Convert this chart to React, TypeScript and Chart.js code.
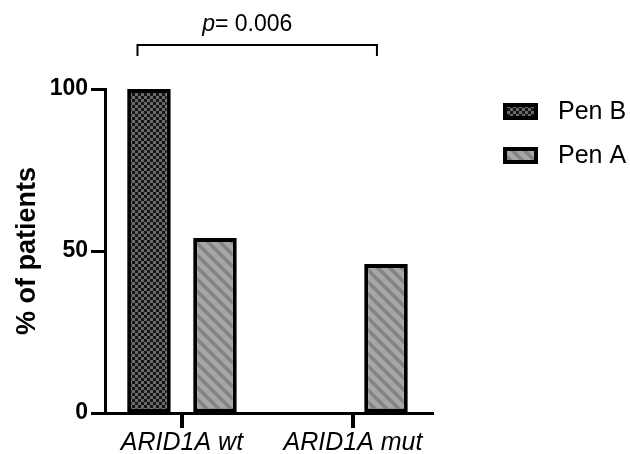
import React, { useEffect, useRef } from "react";
import { Chart, registerables } from "chart.js";

Chart.register(...registerables);

const categories = ["ARID1A wt", "ARID1A mut"];
const seriesNames = ["Pen B", "Pen A"];
const penB = [100, 0];
const penA = [54, 46];
const yTicks = [0, 50, 100];
const pValueLabel = "0.006";

const FONT = "'Liberation Sans', Arial, sans-serif";

function makeChecker(): CanvasPattern | string {
  const c = document.createElement("canvas");
  c.width = 6;
  c.height = 6;
  const g = c.getContext("2d");
  if (!g) return "#333";
  g.fillStyle = "#151515";
  g.fillRect(0, 0, 6, 6);
  g.fillStyle = "#6a6a6a";
  g.fillRect(0, 0, 3, 3);
  g.fillRect(3, 3, 3, 3);
  return g.createPattern(c, "repeat") || "#333";
}

function makeStripes(): CanvasPattern | string {
  const n = 12;
  const c = document.createElement("canvas");
  c.width = n;
  c.height = n;
  const g = c.getContext("2d");
  if (!g) return "#999";
  const img = g.createImageData(n, n);
  for (let y = 0; y < n; y++) {
    for (let x = 0; x < n; x++) {
      const d = (((x - y) % n) + n) % n;
      const v = d < 5 ? 0x84 : 0xa6;
      const i = (y * n + x) * 4;
      img.data[i] = v;
      img.data[i + 1] = v;
      img.data[i + 2] = v;
      img.data[i + 3] = 255;
    }
  }
  g.putImageData(img, 0, 0);
  return g.createPattern(c, "repeat") || "#999";
}

export default function App() {
  const ref = useRef<HTMLCanvasElement | null>(null);

  useEffect(() => {
    if (!ref.current) return;
    const checker = makeChecker();
    const stripes = makeStripes();
    const fills = [checker, stripes];

    const overlay = {
      id: "overlay",
      afterDraw(chart: any) {
        const ctx = chart.ctx;
        const xs = chart.scales.x;
        const ys = chart.scales.y;
        ctx.save();
        // x-axis tick marks at the category positions
        const axisY = ys.getPixelForValue(0);
        ctx.fillStyle = "#000";
        for (let i = 0; i < categories.length; i++) {
          const px = Math.round(xs.getPixelForValue(i));
          ctx.fillRect(px - 2, axisY - 1, 4, 16);
        }
        // significance bracket
        const x1 = xs.getPixelForValue(-0.26);
        const x2 = xs.getPixelForValue(1.14);
        ctx.strokeStyle = "#000";
        ctx.lineWidth = 2;
        ctx.beginPath();
        ctx.moveTo(x1, 56);
        ctx.lineTo(x1, 45);
        ctx.lineTo(x2, 45);
        ctx.lineTo(x2, 56);
        ctx.stroke();
        // p value text
        ctx.fillStyle = "#000";
        ctx.textBaseline = "alphabetic";
        const pPart = "p";
        const rest = "= " + pValueLabel;
        ctx.font = "italic 23px " + FONT;
        const w1 = ctx.measureText(pPart).width;
        ctx.font = "23px " + FONT;
        const w2 = ctx.measureText(rest).width;
        const cx = xs.getPixelForValue(0.382);
        const sx = cx - (w1 + w2) / 2;
        ctx.font = "italic 23px " + FONT;
        ctx.fillText(pPart, sx, 31);
        ctx.font = "23px " + FONT;
        ctx.fillText(rest, sx + w1, 31);
        // legend
        const bx = 503;
        const bw = 35;
        const bh = 17;
        seriesNames.forEach((name, i) => {
          const top = 103 + i * 44;
          ctx.fillStyle = fills[i] as any;
          ctx.fillRect(bx, top, bw, bh);
          ctx.strokeStyle = "#000";
          ctx.lineWidth = 4;
          ctx.strokeRect(bx + 2, top + 2, bw - 4, bh - 4);
          ctx.fillStyle = "#000";
          ctx.font = "25px " + FONT;
          ctx.textBaseline = "middle";
          ctx.fillText(name, 558, top + bh / 2 + 1);
        });
        ctx.restore();
      },
    };

    const chart = new Chart(ref.current, {
      type: "bar",
      data: {
        datasets: [
          {
            label: seriesNames[0],
            data: penB.map((v, i) => ({ x: i, y: v })),
            backgroundColor: checker as any,
            borderColor: "#000",
            borderWidth: 4,
            borderSkipped: false,
            categoryPercentage: 0.772,
            barPercentage: 0.66,
          },
          {
            label: seriesNames[1],
            data: penA.map((v, i) => ({ x: i, y: v })),
            backgroundColor: stripes as any,
            borderColor: "#000",
            borderWidth: 4,
            borderSkipped: false,
            categoryPercentage: 0.772,
            barPercentage: 0.66,
          },
        ],
      },
      options: {
        animation: false,
        responsive: false,
        maintainAspectRatio: false,
        layout: { padding: { left: 0, top: 89, right: 198, bottom: 0 } },
        plugins: {
          legend: { display: false },
          tooltip: { enabled: false },
        },
        scales: {
          x: {
            type: "linear",
            min: -0.45,
            max: 1.462,
            offset: false,
            afterBuildTicks: (scale: any) => {
              scale.ticks = categories.map((_, i) => ({ value: i }));
            },
            afterFit: (scale: any) => {
              scale.height = 41;
            },
            ticks: {
              autoSkip: false,
              maxRotation: 0,
              padding: 2,
              color: "#000",
              font: { family: FONT, size: 25, style: "italic" },
              callback: (v: any) => categories[Math.round(Number(v))] ?? "",
            },
            grid: {
              display: true,
              offset: false,
              drawOnChartArea: false,
              drawTicks: true,
              tickLength: 13,
              lineWidth: 3,
              color: "#000",
              tickWidth: 3,
              tickColor: "#000",
            },
            border: { display: true, color: "#000", width: 3 },
          },
          y: {
            min: 0,
            max: 100,
            afterBuildTicks: (scale: any) => {
              scale.ticks = yTicks.map((v) => ({ value: v }));
            },
            afterFit: (scale: any) => {
              scale.width = 105;
            },
            ticks: {
              padding: 3,
              color: "#000",
              font: { family: FONT, size: 23, weight: "bold" },
            },
            grid: {
              drawOnChartArea: false,
              drawTicks: true,
              tickLength: 14,
              tickWidth: 3,
              tickColor: "#000",
            },
            border: { display: true, color: "#000", width: 3 },
            title: {
              display: true,
              text: "% of patients",
              color: "#000",
              padding: { top: 11, bottom: 0 },
              font: { family: FONT, size: 27, weight: "bold" },
            },
          },
        },
      },
      plugins: [overlay],
    });
    return () => chart.destroy();
  }, []);

  return (
    <div style={{ position: "fixed", left: 0, top: 0, width: 630, height: 454, background: "#fff" }}>
      <canvas ref={ref} width={630} height={454} style={{ width: 630, height: 454, display: "block" }} />
    </div>
  );
}
